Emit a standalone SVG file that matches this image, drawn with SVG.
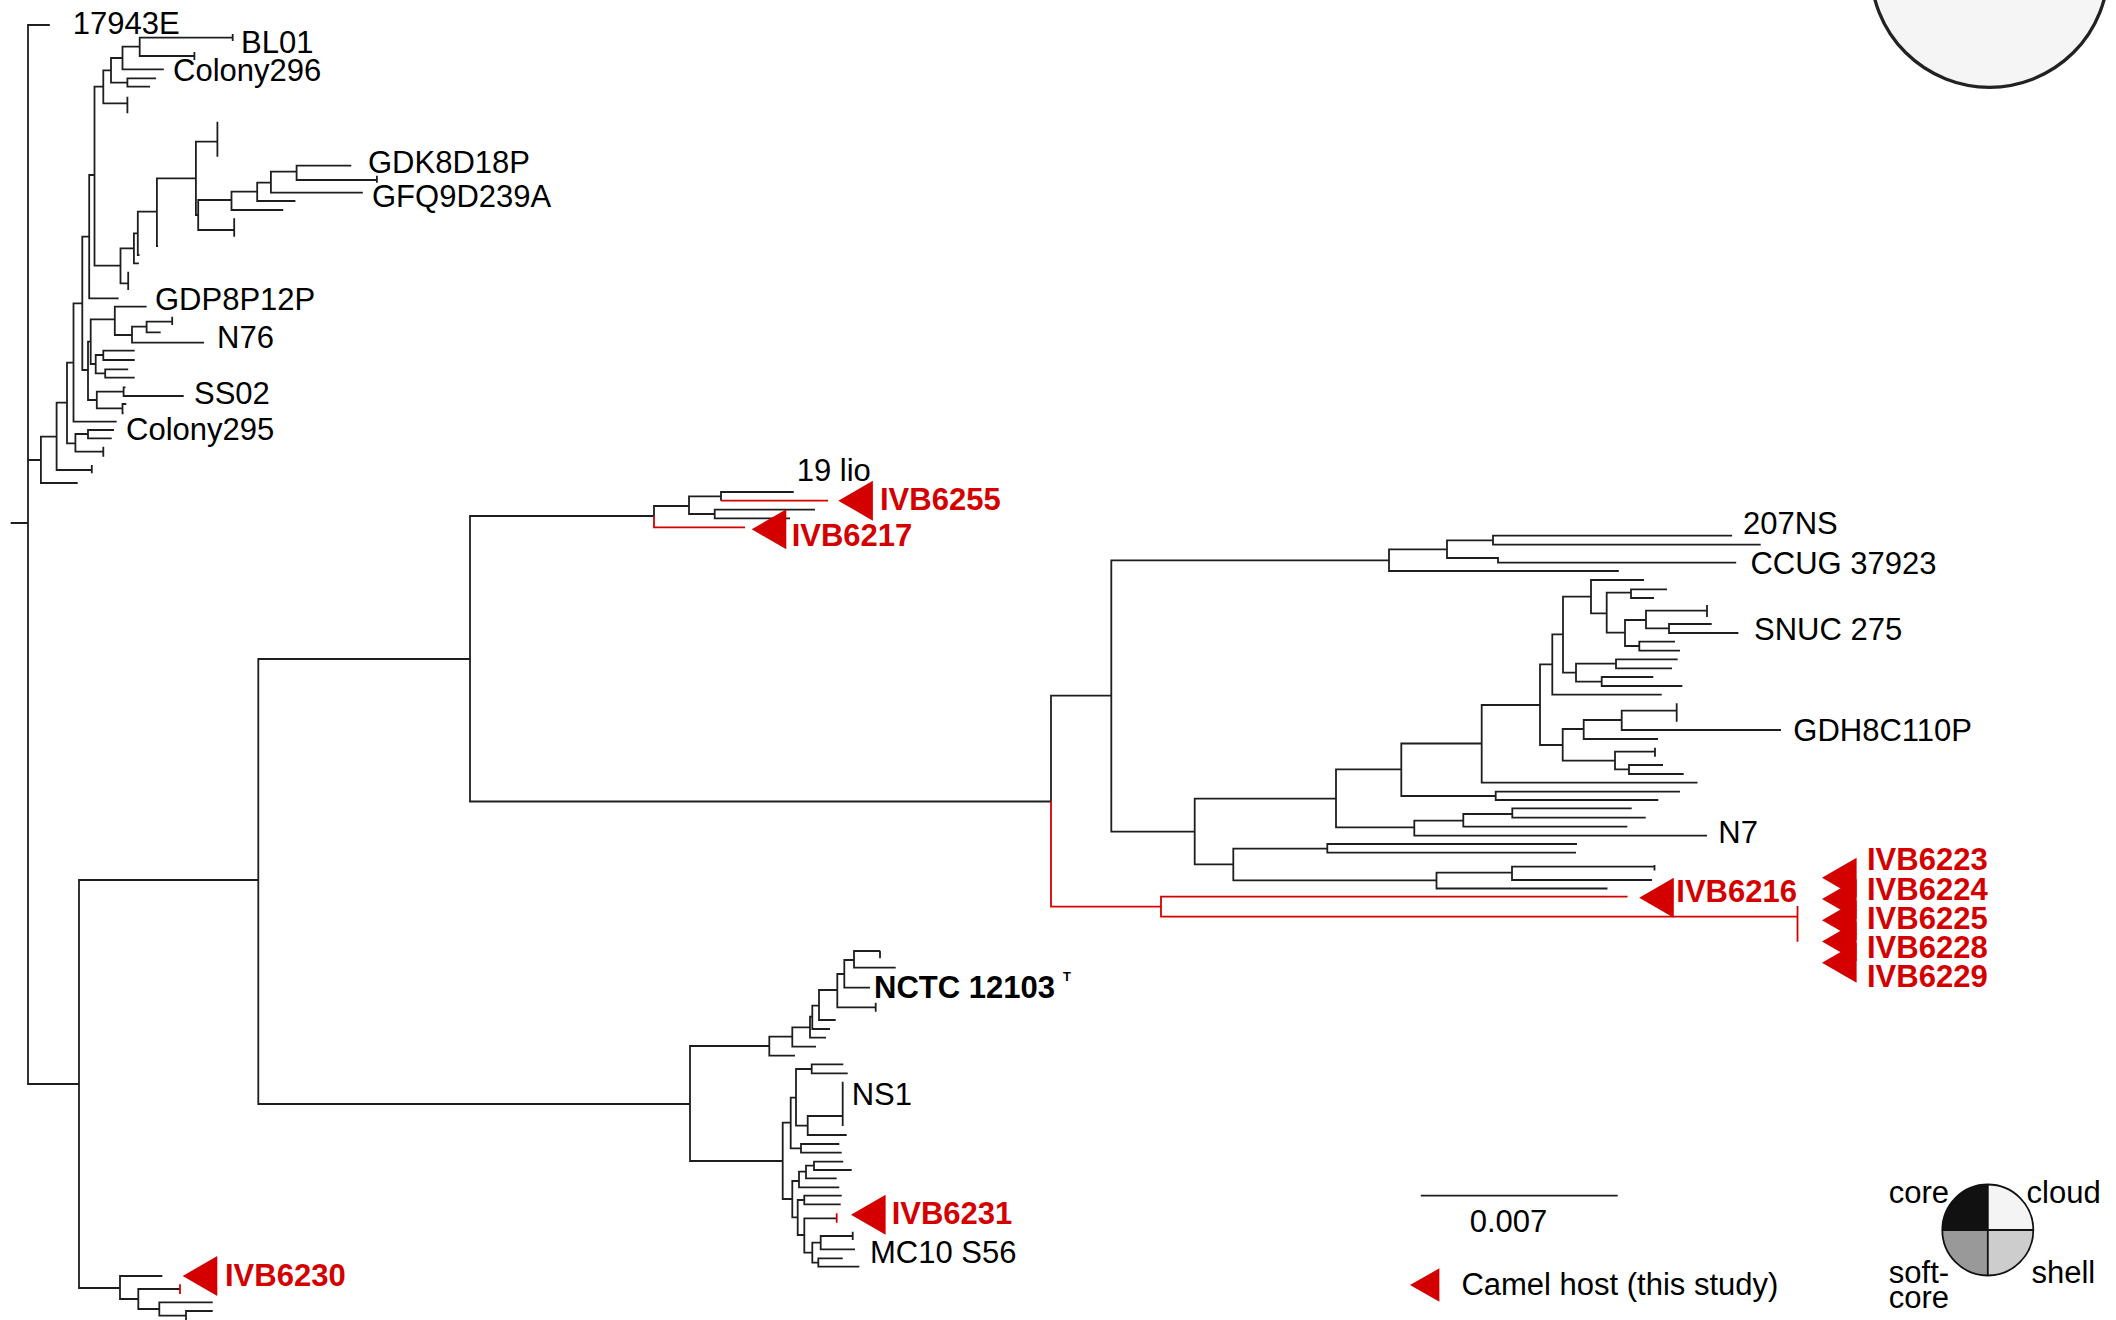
<svg xmlns="http://www.w3.org/2000/svg" xmlns:xlink="http://www.w3.org/1999/xlink" width="2116" height="1320" viewBox="0 0 2116 1320">
<style>
.br{fill:none;stroke:#1e1e1e;stroke-width:1.8}
.rb{fill:none;stroke:#d40000;stroke-width:1.8}
text{font-family:"Liberation Sans",Arial,Helvetica,sans-serif;font-size:31px;fill:#000}
.red{fill:#d40000;font-weight:bold}
.bold{font-weight:bold}
.tri{fill:#d40000}
</style>
<defs>
<path id="tri" d="M0 0L34.6 -20L34.6 20Z"/>
</defs>
<rect width="2116" height="1320" fill="#fff"/>
<g id="connectors">
<path class="br" d="M232.7 37.7H139.7V56H194.4M139.7 46.7H122.5V69.3H163.8M156.1 78.3H127.4V86.7H150M122.5 58H111V82.7H127.4M111 70.3H103.3V103.3H127.4M103.3 86.7H94.5V265.7H120.5M133.9 248.3H120.5V283.3H128.2M137.8 233.3H133.9V263.3H138.9M156.9 211.7H137.8V255H139.5M195.9 178.3H156.9V246H158M217.4 141.7H195.9V215H198.2M231.5 200H198.2V230H234.2M257.2 191.7H231.5V210H283.2M270.9 182.7H257.2V201H295.4M296.6 171.7H270.9V192.7H362.8M351.3 165.7H296.6V180H376.9M94.5 175H89.2V298.3H118.6M89.2 236.7H82.3V370H88M90.7 341.7H88V400H96.8M114.8 319.3H90.7V364H95.7M146.6 306.7H114.8V335H132M146.6 326.7H132V342.7H204M172.2 321.7H146.6V332.3H160.7M103.3 355H95.7V373.3H105.2M134.7 350.7H103.3V360H134.7M128.2 369.3H105.2V377.7H134.7M123.6 391.7H96.8V408.3H122.5M125.5 387.3H123.6V396H183.7M126.3 404H122.5V413.3H123.6M82.3 303.3H73.5V421.7H116.7M73.5 362.7H67V443.3H75.4M88 434H75.4V451.7H103.3M114 430H88V438.3H111.7M67 402.7H56.6V470H91.8M56.6 436.7H40.9V483H77.7M49.8 25H28V1084H79M28 460H40.9M10.7 523H28"/>
<path class="br" d="M232.7 34V41M194.4 52V60M127.4 96.7V113.3M128.2 271.7V290M217.4 121.7V156.7M234.2 218.3V236.7M376.9 175.7V182.7M172.2 316.7V325M103.3 446.7V456.7M91.8 465V473.3"/>
<path class="br" d="M258.3 880H79V1288H120M470 659H258.3V1104H690M654 516H470V801.5H1051M689 506H654V516M721 496.3H689V514H714.7M793.7 492H721V500.7M815 509.7H714.7V518.3H790"/>
<path class="rb" d="M654 516V527.3H745M721 500.7H828"/>
<path class="br" d="M1111.3 695.7H1051V801.5M1389 560.3H1111.3V831.7H1194.7M1447 549.3H1389V571H1618.8M1493 540.3H1447V558H1498V562.7H1736.2M1732.1 535.7H1493V544.7H1760.7M1336 798.7H1194.7V864.3H1233.3M1401.3 769.3H1336V827.3H1414.3M1481.7 743.5H1401.3V796H1495.7M1540 705H1481.7V782.7H1697.5M1552.3 664.3H1540V745H1562.7M1563 634.3H1552.3V694.7H1661.7M1591 596.7H1563V672.7H1576M1644 580H1591V613.3H1606.7M1631 592.7H1606.7V632.7H1625M1667 589.3H1631V598H1654M1646 620H1625V646H1639.3M1707 610.7H1646V628.3H1669M1711.7 624H1669V633H1738.4M1675 641.7H1639.3V650.7H1680M1616 663.7H1576V681.7H1601.7M1677.7 659.3H1616V668.3H1672M1653.3 677H1601.7V686H1682.3M1583.7 729H1562.7V760.7H1615M1621.7 720H1583.7V739H1658M1676.7 710.7H1621.7V730H1781M1655 751.7H1615V769.3H1629M1663 765H1629V774H1683.7M1680 791.7H1495.7V800H1658.3M1463.3 820.7H1414.3V835.7H1707M1512.3 814H1463.3V826.7H1627.3M1631.7 808.3H1512.3V817.7H1645.7M1327.3 848.7H1233.3V880.3H1436.5M1577 844H1327.3V852.7H1576M1512 872.7H1436.5V888.5H1607.5M1654.5 866.7H1512V880H1652M1707 605V617M1676.7 703.3V721.7M1655 747.7V756.7M1654.5 865V870.5"/>
<path class="rb" d="M1051 801.5V906.7H1161M1627.5 896.7H1161V916.7H1797.5M1797.5 906V941.7"/>
<path class="br" d="M769.3 1046H690V1161H782.7M792.3 1036.7H769.3V1055.7H795M810 1027.3H792.3V1046.7H816M812.3 1016.7H810V1037.7H826M819 1005.7H812.3V1029H830M837.3 990H819V1020H835.7M844.3 974H837.3V1007.3H875.7M854 960H844.3V987.7H870M880 951H854V967.7H895.7M875.7 1002.7V1011.7M880 950.7V958.3"/>
<path class="br" d="M790.7 1122.7H782.7V1199H792.3M796 1097.7H790.7V1148.3H801M811.7 1069H796V1125.7H807.7M843.3 1064.3H811.7V1073.3H847.7M842.7 1116H807.7V1135H846.7M842.7 1081.7V1126M839.3 1144H801V1152.7H841.7M799 1181H792.3V1217.3H797.7M806 1171.7H799V1187.3H839.3M814 1165.7H806V1178.3H836.7M843.3 1161.7H814V1170H851.7M804.3 1200H797.7V1235H804.3M841.7 1195.7H804.3V1204.3H840.7M836.7 1218.3H804.3V1252.7H812.3M820.7 1242.7H812.3V1262.7H818.3M852.7 1236H820.7V1249.3H855M852.7 1231.7V1240M842.7 1258.3H818.3V1266.7H859.3"/>
<path class="rb" d="M836.7 1213.3V1222.7"/>
<path class="br" d="M162.3 1276H120V1299H138.3M180 1289H138.3V1309H159.3M212.7 1302.3H159.3V1315.7H186M212.7 1311H186V1322H199.3"/>
<path class="rb" d="M180 1284.3V1294"/>
</g>
<g id="leaf-17943E"><text x="72.7" y="34">17943E</text></g>
<g id="leaf-BL01"><text x="241" y="53">BL01</text></g>
<g id="leaf-Colony296"><text x="173" y="81">Colony296</text></g>
<g id="leaf-GDK8D18P"><text x="368" y="173">GDK8D18P</text></g>
<g id="leaf-GFQ9D239A"><text x="372" y="207">GFQ9D239A</text></g>
<g id="leaf-GDP8P12P"><text x="155" y="310">GDP8P12P</text></g>
<g id="leaf-N76"><text x="217" y="348">N76</text></g>
<g id="leaf-SS02"><text x="194" y="404">SS02</text></g>
<g id="leaf-Colony295"><text x="126" y="440">Colony295</text></g>
<g id="leaf-19lio"><text x="796.7" y="481">19 lio</text></g>
<g id="leaf-IVB6255"><use xlink:href="#tri" href="#tri" x="838.3" y="500.7" class="tri"/><text class="red" x="880" y="510">IVB6255</text></g>
<g id="leaf-IVB6217"><use xlink:href="#tri" href="#tri" x="751.7" y="529.3" class="tri"/><text class="red" x="791.7" y="545.7">IVB6217</text></g>
<g id="leaf-207NS"><text x="1743" y="534.3">207NS</text></g>
<g id="leaf-CCUG37923"><text x="1750.4" y="574">CCUG 37923</text></g>
<g id="leaf-SNUC275"><text x="1754" y="640">SNUC 275</text></g>
<g id="leaf-GDH8C110P"><text x="1793.3" y="740.7">GDH8C110P</text></g>
<g id="leaf-N7"><text x="1718.3" y="843.3">N7</text></g>
<g id="leaf-IVB6216"><use xlink:href="#tri" href="#tri" x="1639.2" y="897.7" class="tri"/><text class="red" x="1676.3" y="902.3">IVB6216</text></g>
<g id="leaf-IVB6223-6229">
<use xlink:href="#tri" href="#tri" x="1822" y="877.7" class="tri"/>
<use xlink:href="#tri" href="#tri" x="1822" y="899" class="tri"/>
<use xlink:href="#tri" href="#tri" x="1822" y="920.3" class="tri"/>
<use xlink:href="#tri" href="#tri" x="1822" y="941.5" class="tri"/>
<use xlink:href="#tri" href="#tri" x="1822" y="962.8" class="tri"/>
<text class="red" x="1867" y="870">IVB6223</text>
<text class="red" x="1867" y="899.5">IVB6224</text>
<text class="red" x="1867" y="928.5">IVB6225</text>
<text class="red" x="1867" y="957.5">IVB6228</text>
<text class="red" x="1867" y="986.5">IVB6229</text>
</g>
<g id="leaf-NCTC12103T"><text class="bold" x="874" y="997.7">NCTC 12103</text><text class="bold" x="1063" y="980.5" style="font-size:13px">T</text></g>
<g id="leaf-NS1"><text x="851.7" y="1105">NS1</text></g>
<g id="leaf-IVB6231"><use xlink:href="#tri" href="#tri" x="851" y="1214.7" class="tri"/><text class="red" x="891.7" y="1224.3">IVB6231</text></g>
<g id="leaf-MC10S56"><text x="870" y="1262.7">MC10 S56</text></g>
<g id="leaf-IVB6230"><use xlink:href="#tri" href="#tri" x="182.7" y="1276" class="tri"/><text class="red" x="225" y="1286">IVB6230</text></g>
<g id="scale-bar"><path class="br" d="M1420.8 1195.7H1617.7"/><text x="1469.7" y="1231.7">0.007</text></g>
<g id="legend-camel"><path class="tri" d="M1410 1285L1439.4 1268.3L1439.4 1301.7Z"/><text x="1461.4" y="1295">Camel host (this study)</text></g>
<g id="legend-pie">
<path d="M1987.8 1230V1184.5A45.5 45.5 0 0 0 1942.3 1230Z" fill="#111"/>
<path d="M1987.8 1230V1184.5A45.5 45.5 0 0 1 2033.3 1230Z" fill="#f4f4f4"/>
<path d="M1987.8 1230H1942.3A45.5 45.5 0 0 0 1987.8 1275.5Z" fill="#999"/>
<path d="M1987.8 1230H2033.3A45.5 45.5 0 0 1 1987.8 1275.5Z" fill="#cdcdcd"/>
<circle cx="1987.8" cy="1230" r="45.5" fill="none" stroke="#111" stroke-width="1.8"/>
<path d="M1987.8 1184.5V1275.5M1942.3 1230H2033.3" stroke="#111" stroke-width="1.8"/>
<text x="1888.8" y="1203.3">core</text>
<text x="2026.6" y="1203.3">cloud</text>
<text x="1888.8" y="1282.7">soft-</text>
<text x="1888.8" y="1308.3">core</text>
<text x="2031.5" y="1282.7">shell</text>
</g>
<g id="top-circle"><circle cx="1989.5" cy="-31.4" r="118.7" fill="#f5f5f5" stroke="#222" stroke-width="3.3"/></g>
</svg>
